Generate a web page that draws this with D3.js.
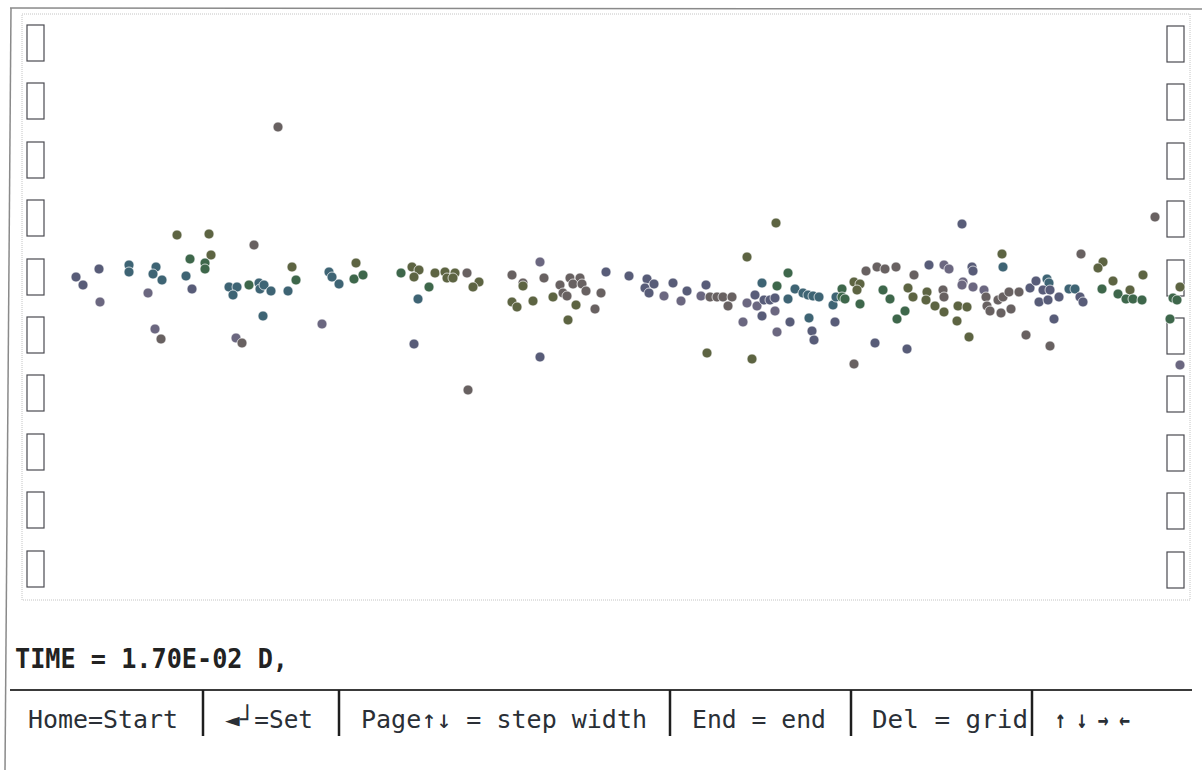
<!DOCTYPE html>
<html><head><meta charset="utf-8">
<script src="https://cdn.jsdelivr.net/npm/d3@7/dist/d3.min.js"></script>
<style>html,body{margin:0;padding:0;background:#fff;}svg{display:block;}</style>
</head><body>
<script>
// particle position along the column (x) and vertical displacement (y)
const dotX = [54,61,77,78,107,107,134,131,140,126,
133,139,155,187,168,189,183,183,164,170,
232,207,215,211,227,237,238,242,249,266,
270,274,241,214,220,300,307,310,317,334,
332,341,379,390,397,392,413,423,425,433,
431,445,457,451,407,396,392,446,490,501,
501,490,495,511,518,522,531,538,548,558,
551,560,541,545,564,554,546,573,579,518,
584,607,625,623,632,627,651,642,659,665,
684,679,688,695,701,710,706,685,725,754,
730,721,740,755,766,733,725,735,742,748,
753,753,740,755,768,766,773,781,786,791,
797,787,790,792,813,811,814,820,820,823,
832,838,835,838,844,855,863,874,861,868,
875,883,853,885,832,892,886,891,907,922,
927,905,904,913,921,922,922,936,935,940,
950,951,941,940,951,945,947,980,981,962,
964,965,968,979,989,976,981,987,997,1008,
1014,1025,1027,1021,1028,1017,1026,1037,1047,1053,
1058,1061,1032,1004,1028,1059,1081,1076,1091,1080,
1096,1108,1104,1111,1120,1121,1133,1158,1151,1155,
1148,1158,256];
const dotY = [30,22,38,5,42,35,40,33,27,14,
-22,-32,72,73,48,52,44,38,31,18,
62,20,20,12,22,24,18,22,16,16,
40,27,-9,-31,-36,-17,35,30,23,44,
28,32,34,40,37,30,34,35,29,34,
29,34,25,20,20,8,-37,-83,32,24,
21,5,0,6,45,29,10,22,29,29,
23,23,14,11,16,2,-13,-2,14,-50,
35,31,28,19,23,14,24,11,6,16,
22,11,10,10,10,10,1,-46,50,84,
-52,-15,24,21,34,12,4,1,7,7,
9,-4,-9,-25,-15,8,18,14,12,11,
10,-11,-24,-33,-15,2,10,18,10,8,
25,23,17,3,36,40,38,40,17,8,
-12,-4,-36,-42,-57,32,19,10,42,42,
38,15,7,1,17,10,-5,1,-14,83,
40,36,25,22,20,0,-30,53,40,17,
10,1,-4,-6,-2,7,10,15,15,19,
26,28,24,17,17,5,7,10,18,18,
10,5,-12,-28,-39,53,45,39,26,18,
13,17,8,8,7,32,90,20,9,7,
-12,-58,180];
const dotGroup = ("SSSPTTTTTP"+"PBOOGOGGTS"+"BTTTGTTTTT"+"OGTPBPTTTO"+"GGGOOOOOOO"+
  "OBOOGTSBBB"+"OOOOPBOBBB"+"BBBBBOOBBS"+"SSSSSSSPPS"+"SPBBBBBOOO"+
  "OPTGGSPPSS"+"SPSPSTTTTT"+"TTSSSTTGGG"+"OOOGBBBBGG"+"GGSSBBOOSP"+
  "POOOBBOOOS"+"SSPPPOOOTP"+"BBBBBBBBBS"+"STTSSSSSTT"+"SSSBBBOOOG"+
  "GOGGGOBOGG"+"GPB").split("");
const groupNames = ["S","T","G","O","B","P"];
const groupColors = ["#585c78","#3e6474","#3e674b","#5d6442","#686161","#6b6780"];
// grid marker rows (top of each marker, displacement units)
const gridRows = [282,224,165,107,48,-10,-68,-127,-185,-244];
const timeLabel = "TIME = 1.70E-02 D,";
const menuItems = ["Home=Start","\u25C4\u2518=Set","Page\u2191\u2193 = step width","End = end","Del = grid","\u2191 \u2193 \u2192 \u2190"];

const W = 1202, H = 770;
const svg = d3.select("body").append("svg").attr("width",W).attr("height",H);
const x = d3.scaleLinear().domain([0,1168]).range([22,1190]);
const y = d3.scaleLinear().domain([293,-293]).range([14,600]);
const color = d3.scaleOrdinal().domain(groupNames).range(groupColors);

// outer frame
svg.append("line").attr("x1",10).attr("y1",8).attr("x2",1202).attr("y2",9)
  .attr("stroke","#8a8a8a").attr("stroke-width",1.5);
svg.append("line").attr("x1",11).attr("y1",8).attr("x2",5).attr("y2",770)
  .attr("stroke","#8a8a8a").attr("stroke-width",1.5);
// inner dotted frame
svg.append("rect").attr("x",x(0)).attr("y",y(293)).attr("width",x(1168)-x(0)).attr("height",y(-293)-y(293))
  .attr("fill","none").attr("stroke","#c4c4c4").attr("stroke-dasharray","1,1");

// grid markers
const boxH = y(-36)-y(0);
[[27,0],[1167,1]].forEach(([bx,dy]) => {
  svg.append("g").selectAll("rect").data(gridRows).join("rect")
    .attr("x",bx).attr("y",d=>y(d)+dy).attr("width",17).attr("height",boxH)
    .attr("fill","none").attr("stroke","#4a4a50").attr("stroke-width",1.2);
});

// particles
svg.append("g").selectAll("circle").data(dotX.map((v,i)=>i)).join("circle")
  .attr("cx",i=>x(dotX[i])).attr("cy",i=>y(dotY[i])).attr("r",5)
  .attr("fill",i=>color(dotGroup[i])).attr("stroke","#fff").attr("stroke-width",0.7);

// time label
svg.append("text").attr("x",15).attr("y",668).text(timeLabel)
  .attr("font-family","DejaVu Sans Mono").attr("font-size",26).attr("font-weight","bold")
  .attr("fill","#222").attr("textLength",273).attr("lengthAdjust","spacingAndGlyphs");

// menu bar
svg.append("line").attr("x1",10).attr("y1",690).attr("x2",1192).attr("y2",690)
  .attr("stroke","#3a3a3a").attr("stroke-width",2);
const sepX = [203,339,670,851,1032];
svg.append("g").selectAll("line").data(sepX).join("line")
  .attr("x1",d=>d).attr("x2",d=>d).attr("y1",690).attr("y2",736)
  .attr("stroke","#1e1e1e").attr("stroke-width",2.5);
const menuX = [28,225,361,692,872,1055];
const menuLen = [150,88,286,134,156,75];
svg.append("g").selectAll("text").data(menuItems).join("text")
  .attr("x",(d,i)=>menuX[i]).attr("y",728).text(d=>d)
  .attr("font-family","DejaVu Sans Mono").attr("font-size",25)
  .attr("font-weight",(d,i)=>i===5?"bold":"normal")
  .attr("fill","#2a2f36").attr("textLength",(d,i)=>menuLen[i]).attr("lengthAdjust","spacingAndGlyphs");
</script>
</body></html>
